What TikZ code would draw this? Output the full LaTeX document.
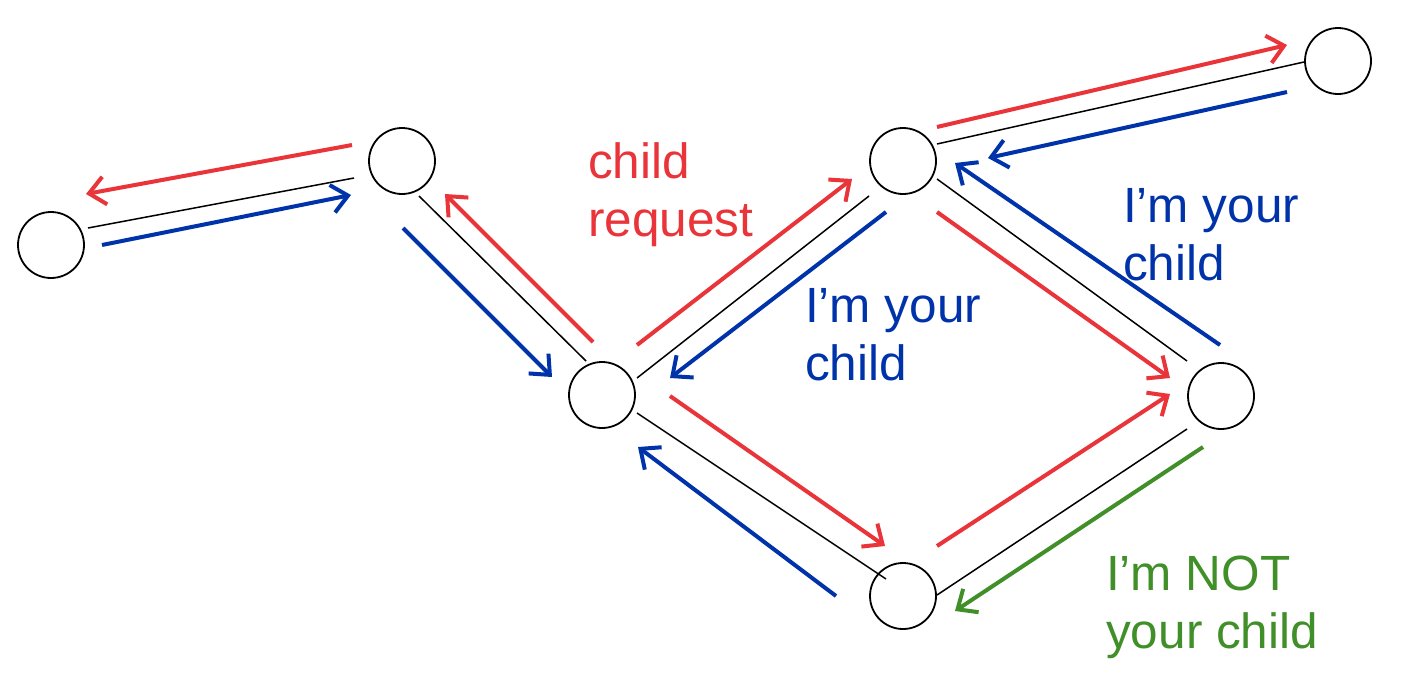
\documentclass[tikz,border=0pt]{standalone}
\usepackage{fontspec}
\setmainfont{Liberation Sans}
\usetikzlibrary{arrows.meta}
\definecolor{cred}{RGB}{233,52,58}
\definecolor{cblue}{RGB}{0,51,170}
\definecolor{cgreen}{RGB}{64,143,40}
\tikzset{
  vertex/.style={draw=black, circle, line width=1.8pt, minimum size=66pt, inner sep=0pt},
  edge/.style={draw=black, line width=1.5pt},
  msg/.style={line width=4pt, -{Straight Barb[length=16pt,width=28pt]}},
  redmsg/.style={msg, draw=cred},
  bluemsg/.style={msg, draw=cblue},
  greenmsg/.style={msg, draw=cgreen},
  lbl/.style={anchor=base west, align=left, inner sep=0pt, font=\fontsize{49.5}{58}\selectfont}
}
\begin{document}
\begin{tikzpicture}[x=1pt,y=-1pt]
\useasboundingbox (0,0) rectangle (1412,672);
% vertices
\node[vertex] (A) at (51,245) {};
\node[vertex] (B) at (402,161) {};
\node[vertex] (C) at (602,395) {};
\node[vertex] (D) at (903,161) {};
\node[vertex] (E) at (1338,61) {};
\node[vertex] (F) at (1221,396) {};
\node[vertex] (G) at (903,596) {};
% edge end points
\coordinate (ab1) at (88,228);   \coordinate (ab2) at (354,178);
\coordinate (bc1) at (419,196);  \coordinate (bc2) at (586,361);
\coordinate (cd1) at (637,378);  \coordinate (cd2) at (869,196);
\coordinate (de1) at (937,144);  \coordinate (de2) at (1304,62);
\coordinate (df1) at (937,179);  \coordinate (df2) at (1187,361);
\coordinate (cg1) at (637,413);  \coordinate (cg2) at (886,579);
\coordinate (gf1) at (937,595);  \coordinate (gf2) at (1187,429);
\draw[edge] (ab1) -- (ab2);
\draw[edge] (bc1) -- (bc2);
\draw[edge] (cd1) -- (cd2);
\draw[edge] (de1) -- (de2);
\draw[edge] (df1) -- (df2);
\draw[edge] (cg1) -- (cg2);
\draw[edge] (gf1) -- (gf2);
% red arrows (child request)
\coordinate (rba1) at (352,145); \coordinate (rba2) at (86,194);
\coordinate (rcb1) at (593,342); \coordinate (rcb2) at (445,194);
\coordinate (rcd1) at (637,345); \coordinate (rcd2) at (852,179);
\coordinate (rde1) at (937,127); \coordinate (rde2) at (1287,45);
\coordinate (rdf1) at (937,212); \coordinate (rdf2) at (1170,378);
\coordinate (rcg1) at (670,396); \coordinate (rcg2) at (885,546);
\coordinate (rgf1) at (937,546); \coordinate (rgf2) at (1170,394);
\draw[redmsg] (rba1) -- (rba2);
\draw[redmsg] (rcb1) -- (rcb2);
\draw[redmsg] (rcd1) -- (rcd2);
\draw[redmsg] (rde1) -- (rde2);
\draw[redmsg] (rdf1) -- (rdf2);
\draw[redmsg] (rcg1) -- (rcg2);
\draw[redmsg] (rgf1) -- (rgf2);
% blue arrows (I'm your child)
\coordinate (bab1) at (102,245); \coordinate (bab2) at (351,195);
\coordinate (bbc1) at (403,228); \coordinate (bbc2) at (552,377);
\coordinate (bdc1) at (886,212); \coordinate (bdc2) at (670,378);
\coordinate (bed1) at (1287,92); \coordinate (bed2) at (988,158);
\coordinate (bfd1) at (1220,345); \coordinate (bfd2) at (955,163);
\coordinate (bgc1) at (836,596); \coordinate (bgc2) at (638,447);
\draw[bluemsg] (bab1) -- (bab2);
\draw[bluemsg] (bbc1) -- (bbc2);
\draw[bluemsg] (bdc1) -- (bdc2);
\draw[bluemsg] (bed1) -- (bed2);
\draw[bluemsg] (bfd1) -- (bfd2);
\draw[bluemsg] (bgc1) -- (bgc2);
% green arrow (I'm NOT your child)
\coordinate (gfg1) at (1203,447); \coordinate (gfg2) at (955,611);
\draw[greenmsg] (gfg1) -- (gfg2);
% labels (anchor = baseline of the last line)
\node[lbl, text=cred] (t1) at (588,236) {child\\request};
\node[lbl, text=cblue] (t2) at (805,380) {I’m your\\child};
\node[lbl, text=cblue] (t3) at (1123,280) {I’m your\\child};
\node[lbl, text=cgreen] (t4) at (1106,648) {I’m NOT\\your child};
\end{tikzpicture}
\end{document}
